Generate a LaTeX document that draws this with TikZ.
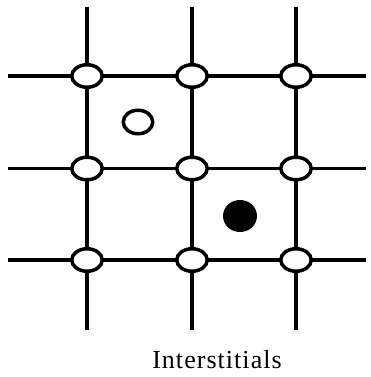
\documentclass[tikz,border=0pt]{standalone}
\usepackage{fontspec}
\setmainfont{Liberation Serif}
\tikzset{
  gridline/.style={line width=3.5pt, black},
  site/.style={ellipse, draw=black, fill=white, line width=3.5pt, inner sep=0pt, minimum width=30.5pt, minimum height=22.5pt},
  vacant/.style={ellipse, draw=black, fill=white, line width=3.5pt, inner sep=0pt, minimum width=29.5pt, minimum height=23.5pt},
  filled/.style={ellipse, fill=black, inner sep=0pt, minimum width=34pt, minimum height=32pt},
}
\usetikzlibrary{shapes.geometric}
\begin{document}
\begin{tikzpicture}[x=1pt, y=-1pt]
\useasboundingbox (0,0) rectangle (370,377);
% end coordinates of grid lines
\coordinate (t1) at (87,7);   \coordinate (b1) at (87,330);
\coordinate (t2) at (192,7);  \coordinate (b2) at (192,330);
\coordinate (t3) at (296,7);  \coordinate (b3) at (296,330);
\coordinate (l1) at (8,76);   \coordinate (r1) at (366,76);
\coordinate (l2) at (8,168.5);\coordinate (r2) at (366,168.5);
\coordinate (l3) at (8,260);  \coordinate (r3) at (366,260);
\draw[gridline] (t1) -- (b1);
\draw[gridline] (t2) -- (b2);
\draw[gridline] (t3) -- (b3);
\draw[gridline] (l1) -- (r1);
\draw[gridline] (l2) -- (r2);
\draw[gridline] (l3) -- (r3);
% lattice sites
\foreach \i/\x in {1/87,2/192,3/296}{
  \foreach \j/\y in {1/76,2/168.5,3/260}{
    \node[site] (s\i\j) at (\x,\y) {};
  }
}
% interstitials
\node[vacant] (iv) at (138,122) {};
\node[filled] (if) at (240,216) {};
\node[font=\fontsize{26}{31}\selectfont\addfontfeature{LetterSpace=4}, anchor=base, inner sep=0pt] (cap) at (217,368.3) {Interstitials};
\end{tikzpicture}
\end{document}
